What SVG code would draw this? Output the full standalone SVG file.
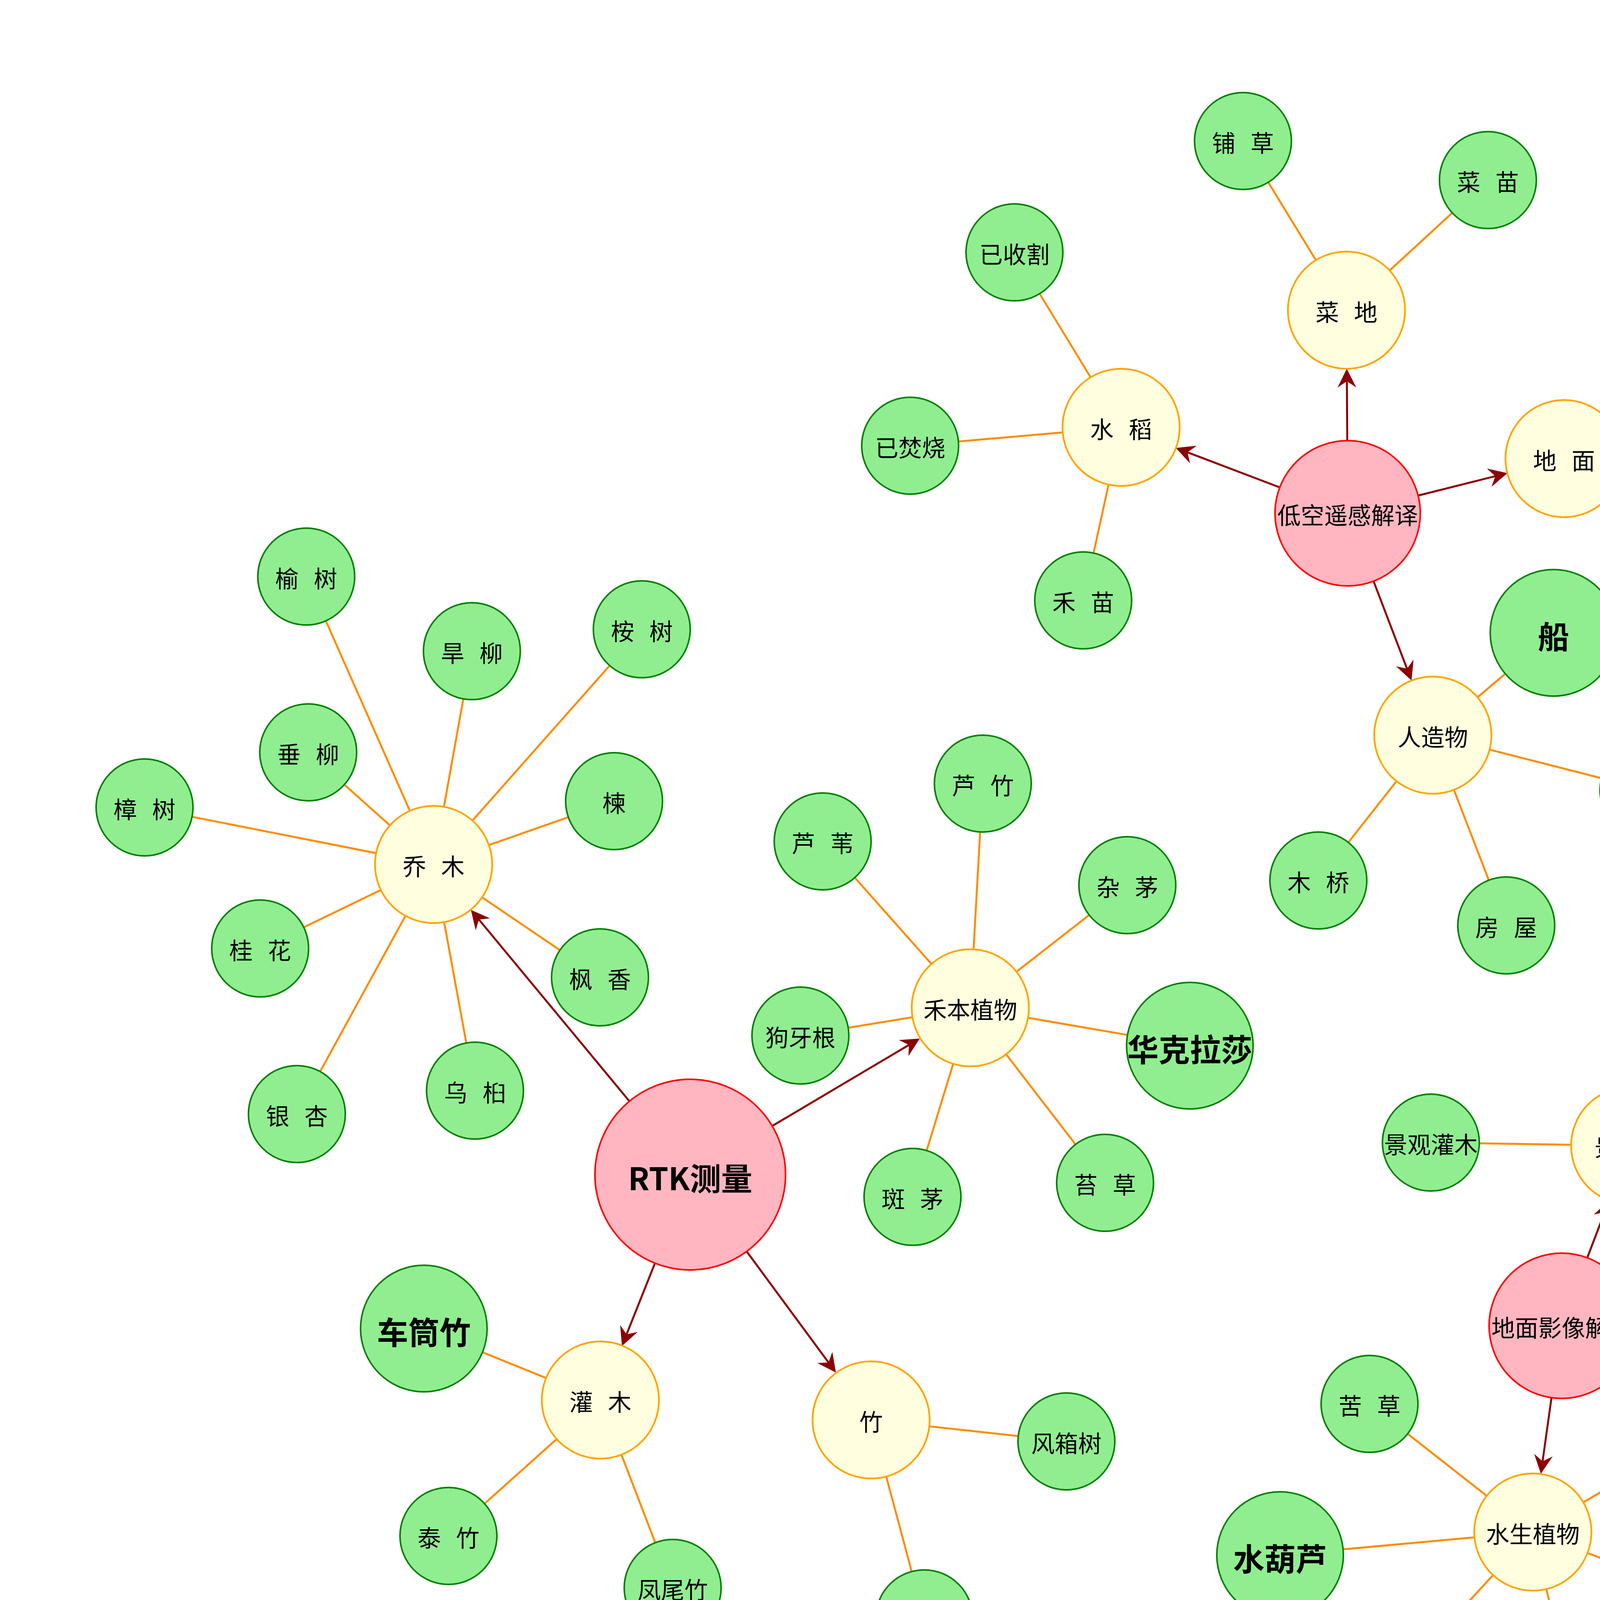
<svg xmlns="http://www.w3.org/2000/svg" width="5000" height="4815" viewBox="0 0 5000 4815">
<style>
.leaf{fill:#90EE90;stroke:#008000;stroke-width:4}
.hub{fill:#FFFFE0;stroke:#FFA500;stroke-width:4.5}
.root{fill:#FFB6C1;stroke:#FF0000;stroke-width:4}
.e{stroke:#FF8C00;stroke-width:5;fill:none}
.a{stroke:#8B0000;stroke-width:5;fill:none;marker-end:url(#arr)}
text{font-family:"Noto Sans CJK SC","Noto Sans",sans-serif;font-size:60px;text-anchor:middle;fill:#000;word-spacing:25px}
text.b{font-weight:bold;font-size:80px}
</style>
<defs>
<marker id="arr" markerUnits="userSpaceOnUse" viewBox="0 0 48 48" markerWidth="48" markerHeight="48" refX="16" refY="24" orient="auto">
<path d="M0,0 L48,24 L0,48 L16,24 Z" fill="#8B0000"/>
</marker>
</defs>
<rect width="5000" height="4815" fill="#FFFFFF"/>
<g id="connectors">
<line class="e" x1="1110" y1="2213" x2="784" y2="1476"/>
<line class="e" x1="1110" y1="2213" x2="1208" y2="1667"/>
<line class="e" x1="1110" y1="2213" x2="1643" y2="1611"/>
<line class="e" x1="1110" y1="2213" x2="789" y2="1926"/>
<line class="e" x1="1110" y1="2213" x2="370" y2="2067"/>
<line class="e" x1="1110" y1="2213" x2="1572" y2="2051"/>
<line class="e" x1="1110" y1="2213" x2="666" y2="2428"/>
<line class="e" x1="1110" y1="2213" x2="1536" y2="2502"/>
<line class="e" x1="1110" y1="2213" x2="760" y2="2852"/>
<line class="e" x1="1110" y1="2213" x2="1216" y2="2792"/>
<line class="e" x1="2484" y1="2580" x2="2516" y2="2006"/>
<line class="e" x1="2484" y1="2580" x2="2106" y2="2154"/>
<line class="e" x1="2484" y1="2580" x2="2886" y2="2266"/>
<line class="e" x1="2484" y1="2580" x2="2049" y2="2651"/>
<line class="e" x1="2484" y1="2580" x2="3046" y2="2677"/>
<line class="e" x1="2484" y1="2580" x2="2336" y2="3064"/>
<line class="e" x1="2484" y1="2580" x2="2829" y2="3028"/>
<line class="e" x1="1537" y1="3584" x2="1085" y2="3401"/>
<line class="e" x1="1537" y1="3584" x2="1148" y2="3932"/>
<line class="e" x1="1537" y1="3584" x2="1722" y2="4065"/>
<line class="e" x1="2230" y1="3635" x2="2730" y2="3690"/>
<line class="e" x1="2230" y1="3635" x2="2366" y2="4143"/>
<line class="e" x1="2870" y1="1094" x2="2597" y2="646"/>
<line class="e" x1="2870" y1="1094" x2="2330" y2="1141"/>
<line class="e" x1="2870" y1="1094" x2="2773" y2="1537"/>
<line class="e" x1="3447" y1="794" x2="3182" y2="361"/>
<line class="e" x1="3447" y1="794" x2="3809" y2="461"/>
<line class="e" x1="4004" y1="1174" x2="4389" y2="850"/>
<line class="e" x1="4004" y1="1174" x2="4479" y2="1438"/>
<line class="e" x1="3668" y1="1882" x2="3977" y2="1620"/>
<line class="e" x1="3668" y1="1882" x2="4220" y2="2023"/>
<line class="e" x1="3668" y1="1882" x2="3375" y2="2254"/>
<line class="e" x1="3668" y1="1882" x2="3856" y2="2369"/>
<line class="e" x1="4172" y1="2933" x2="4630" y2="2720"/>
<line class="e" x1="4172" y1="2933" x2="3663" y2="2925"/>
<line class="e" x1="3924" y1="3922" x2="3506" y2="3594"/>
<line class="e" x1="3924" y1="3922" x2="4438" y2="3620"/>
<line class="e" x1="3924" y1="3922" x2="3277" y2="3981"/>
<line class="e" x1="3924" y1="3922" x2="4443" y2="4121"/>
<line class="e" x1="3924" y1="3922" x2="3547" y2="4331"/>
<line class="e" x1="3924" y1="3922" x2="4050" y2="4453"/>
<line class="a" x1="1612" y1="2820" x2="1226" y2="2354"/>
<line class="a" x1="1976" y1="2883" x2="2327" y2="2675"/>
<line class="a" x1="1677" y1="3233" x2="1604" y2="3416"/>
<line class="a" x1="1911" y1="3203" x2="2121" y2="3488"/>
<line class="a" x1="3277" y1="1248" x2="3040" y2="1158"/>
<line class="a" x1="3449" y1="1129" x2="3448" y2="976"/>
<line class="a" x1="3629" y1="1269" x2="3828" y2="1219"/>
<line class="a" x1="3516" y1="1487" x2="3602" y2="1712"/>
<line class="a" x1="4063" y1="3221" x2="4108" y2="3103"/>
<line class="a" x1="3972" y1="3577" x2="3949" y2="3741"/>
</g>
<g id="nodes">
<g id="rtk"><circle class="root" cx="1767" cy="3007" r="244"/><text class="b" x="1767" y="3047">RTK测量</text></g>
<g id="diyi"><circle class="root" cx="3450" cy="1314" r="186"/><text x="3450" y="1342">低空遥感解译</text></g>
<g id="dimianyx"><circle class="root" cx="3998" cy="3394" r="186"/><text x="3998" y="3422">地面影像解译</text></g>

<g id="qiaomu"><circle class="hub" cx="1110" cy="2213" r="150"/><text x="1110" y="2241">乔 木</text></g>
<g id="hebenzw"><circle class="hub" cx="2484" cy="2580" r="150"/><text x="2484" y="2608">禾本植物</text></g>
<g id="guanmu"><circle class="hub" cx="1537" cy="3584" r="150"/><text x="1537" y="3612">灌 木</text></g>
<g id="zhu"><circle class="hub" cx="2230" cy="3635" r="150"/><text x="2230" y="3663">竹</text></g>
<g id="shuidao"><circle class="hub" cx="2870" cy="1094" r="150"/><text x="2870" y="1122">水 稻</text></g>
<g id="caidi"><circle class="hub" cx="3447" cy="794" r="150"/><text x="3447" y="822">菜 地</text></g>
<g id="dimian"><circle class="hub" cx="4004" cy="1174" r="150"/><text x="4004" y="1202">地 面</text></g>
<g id="renzaowu"><circle class="hub" cx="3668" cy="1882" r="150"/><text x="3668" y="1910">人造物</text></g>
<g id="jingguanshu"><circle class="hub" cx="4172" cy="2933" r="150"/><text x="4172" y="2961">景观树</text></g>
<g id="shuisheng"><circle class="hub" cx="3924" cy="3922" r="150"/><text x="3924" y="3950">水生植物</text></g>

<g id="yushu"><circle class="leaf" cx="784" cy="1476" r="124"/><text x="784" y="1504">榆 树</text></g>
<g id="hanliu"><circle class="leaf" cx="1208" cy="1667" r="124"/><text x="1208" y="1695">旱 柳</text></g>
<g id="anshu"><circle class="leaf" cx="1643" cy="1611" r="124"/><text x="1643" y="1639">桉 树</text></g>
<g id="chuiliu"><circle class="leaf" cx="789" cy="1926" r="124"/><text x="789" y="1954">垂 柳</text></g>
<g id="zhangshu"><circle class="leaf" cx="370" cy="2067" r="124"/><text x="370" y="2095">樟 树</text></g>
<g id="lian"><circle class="leaf" cx="1572" cy="2051" r="124"/><text x="1572" y="2079">楝</text></g>
<g id="guihua"><circle class="leaf" cx="666" cy="2428" r="124"/><text x="666" y="2456">桂 花</text></g>
<g id="fengxiang"><circle class="leaf" cx="1536" cy="2502" r="124"/><text x="1536" y="2530">枫 香</text></g>
<g id="yinxing"><circle class="leaf" cx="760" cy="2852" r="124"/><text x="760" y="2880">银 杏</text></g>
<g id="wujiu"><circle class="leaf" cx="1216" cy="2792" r="124"/><text x="1216" y="2820">乌 桕</text></g>

<g id="luzhu"><circle class="leaf" cx="2516" cy="2006" r="124"/><text x="2516" y="2034">芦 竹</text></g>
<g id="luwei"><circle class="leaf" cx="2106" cy="2154" r="124"/><text x="2106" y="2182">芦 苇</text></g>
<g id="zamao"><circle class="leaf" cx="2886" cy="2266" r="124"/><text x="2886" y="2294">杂 茅</text></g>
<g id="gouyagen"><circle class="leaf" cx="2049" cy="2651" r="124"/><text x="2049" y="2679">狗牙根</text></g>
<g id="huakelasha"><circle class="leaf" cx="3046" cy="2677" r="162"/><text class="b" x="3046" y="2717">华克拉莎</text></g>
<g id="banmao"><circle class="leaf" cx="2336" cy="3064" r="124"/><text x="2336" y="3092">斑 茅</text></g>
<g id="taicao"><circle class="leaf" cx="2829" cy="3028" r="124"/><text x="2829" y="3056">苔 草</text></g>

<g id="chetongzhu"><circle class="leaf" cx="1085" cy="3401" r="162"/><text class="b" x="1085" y="3441">车筒竹</text></g>
<g id="taizhu"><circle class="leaf" cx="1148" cy="3932" r="124"/><text x="1148" y="3960">泰 竹</text></g>
<g id="fengweizhu"><circle class="leaf" cx="1722" cy="4065" r="124"/><text x="1722" y="4093">凤尾竹</text></g>

<g id="fengxiangshu"><circle class="leaf" cx="2730" cy="3690" r="124"/><text x="2730" y="3718">风箱树</text></g>
<g id="majiazi"><circle class="leaf" cx="2366" cy="4143" r="124"/><text x="2366" y="4171">马甲子</text></g>

<g id="yishouge"><circle class="leaf" cx="2597" cy="646" r="124"/><text x="2597" y="674">已收割</text></g>
<g id="yifenshao"><circle class="leaf" cx="2330" cy="1141" r="124"/><text x="2330" y="1169">已焚烧</text></g>
<g id="hemiao"><circle class="leaf" cx="2773" cy="1537" r="124"/><text x="2773" y="1565">禾 苗</text></g>

<g id="pucao"><circle class="leaf" cx="3182" cy="361" r="124"/><text x="3182" y="389">铺 草</text></g>
<g id="caimiao"><circle class="leaf" cx="3809" cy="461" r="124"/><text x="3809" y="489">菜 苗</text></g>

<g id="lotudi"><circle class="leaf" cx="4389" cy="850" r="124"/><text x="4389" y="878">裸土地</text></g>
<g id="rengongdimian"><circle class="leaf" cx="4479" cy="1438" r="124"/><text x="4479" y="1466">人工地面</text></g>

<g id="chuan"><circle class="leaf" cx="3977" cy="1620" r="162"/><text class="b" x="3977" y="1660">船</text></g>
<g id="cheliang"><circle class="leaf" cx="4220" cy="2023" r="124"/><text x="4220" y="2051">车 辆</text></g>
<g id="muqiao"><circle class="leaf" cx="3375" cy="2254" r="124"/><text x="3375" y="2282">木 桥</text></g>
<g id="fangwu"><circle class="leaf" cx="3856" cy="2369" r="124"/><text x="3856" y="2397">房 屋</text></g>

<g id="jingguanqiaomu"><circle class="leaf" cx="4630" cy="2720" r="124"/><text x="4630" y="2748">景观乔木</text></g>
<g id="jingguanguanmu"><circle class="leaf" cx="3663" cy="2925" r="124"/><text x="3663" y="2953">景观灌木</text></g>

<g id="kucao"><circle class="leaf" cx="3506" cy="3594" r="124"/><text x="3506" y="3622">苦 草</text></g>
<g id="heizao"><circle class="leaf" cx="4438" cy="3620" r="124"/><text x="4438" y="3648">黑 藻</text></g>
<g id="shuihulu"><circle class="leaf" cx="3277" cy="3981" r="162"/><text class="b" x="3277" y="4021">水葫芦</text></g>
<g id="shuibaicai"><circle class="leaf" cx="4443" cy="4121" r="124"/><text x="4443" y="4149">水白菜</text></g>
<g id="shuihua"><circle class="leaf" cx="3547" cy="4331" r="124"/><text x="3547" y="4359">水 华</text></g>
<g id="heye"><circle class="leaf" cx="4050" cy="4453" r="124"/><text x="4050" y="4481">荷 叶</text></g>
</g>
</svg>
